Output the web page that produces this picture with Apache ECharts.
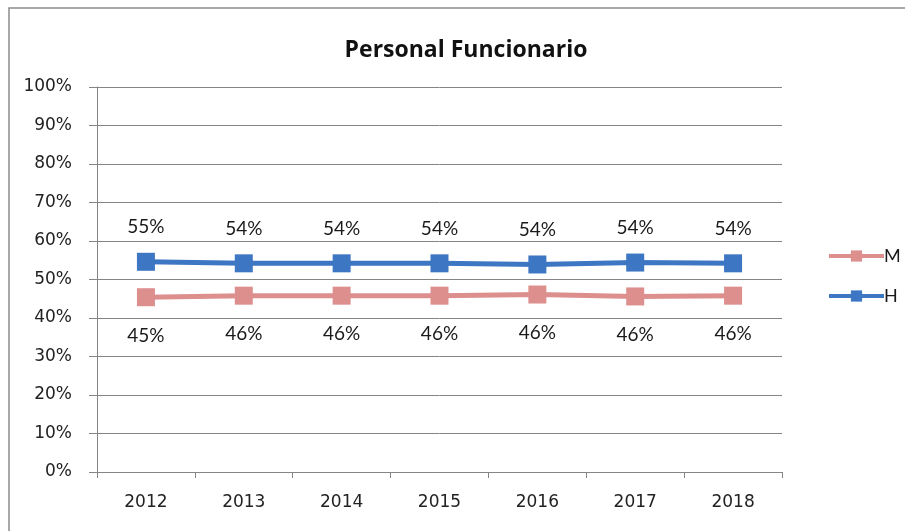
<!DOCTYPE html>
<html>
<head>
<meta charset="utf-8">
<script src="https://cdn.jsdelivr.net/npm/echarts@6/dist/echarts.min.js"></script>
<style>
  html, body { margin: 0; padding: 0; background: #fff; }
  #chart { width: 905px; height: 531px; }
</style>
</head>
<body>
<div id="chart"></div>
<script>
const years = ["2012", "2013", "2014", "2015", "2016", "2017", "2018"];
const mujeres = [45.4, 45.8, 45.8, 45.8, 46.1, 45.6, 45.8];
const hombres = [54.6, 54.2, 54.2, 54.2, 53.9, 54.4, 54.2];
const yTicks = [0, 10, 20, 30, 40, 50, 60, 70, 80, 90, 100];

const chart = echarts.init(document.getElementById("chart"));

const labelFont = {
  fontFamily: "Lato",
  fontSize: 19,
  color: "#1a1a1a",
  formatter: (p) => Math.round(p.value) + "%",
};

const option = {
  animation: false,
  backgroundColor: "#fff",
  graphic: [
    {
      type: "rect",
      shape: { x: 9, y: 8, width: 2000, height: 2000 },
      style: { fill: "none", stroke: "#8c8c8c", lineWidth: 1.5 },
      silent: true,
    },
  ],
  title: {
    text: "Personal Funcionario",
    left: 461,
    textAlign: "center",
    top: 34,
    textStyle: { fontFamily: "Open Sans", fontSize: 23, fontWeight: "bold", color: "#111" },
  },
  legend: {
    orient: "vertical",
    left: 822,
    top: 242,
    itemWidth: 55,
    itemHeight: 14,
    itemGap: 22,
    lineStyle: { width: 4 },
    textStyle: { fontFamily: "Lato", fontSize: 18, color: "#1a1a1a", padding: [0, 0, 0, -5] },
    data: ["M", "H"],
  },
  grid: { left: 97, right: 123, top: 87, bottom: 59 },
  xAxis: {
    type: "category",
    data: years,
    boundaryGap: true,
    axisLine: { lineStyle: { color: "#858585", width: 1 } },
    axisTick: { show: true, length: 6, lineStyle: { color: "#858585" } },
    axisLabel: { fontFamily: "DejaVu Sans", fontSize: 17, color: "#222", margin: 22 },
  },
  yAxis: {
    type: "value",
    min: yTicks[0],
    max: yTicks[yTicks.length - 1],
    interval: 10,
    axisLine: { show: true, lineStyle: { color: "#858585", width: 1 } },
    axisTick: { show: true, length: 8, lineStyle: { color: "#858585" } },
    splitLine: { lineStyle: { color: "#858585", width: 1 } },
    axisLabel: {
      fontFamily: "DejaVu Sans",
      fontSize: 17,
      color: "#222",
      margin: 25,
      formatter: (v) => v + "%",
    },
  },
  series: [
    {
      name: "M",
      type: "line",
      data: mujeres,
      symbol: "rect",
      symbolSize: 18,
      lineStyle: { width: 5, color: "#dd8f8e" },
      itemStyle: { color: "#dd8f8e" },
      label: Object.assign({ show: true, position: "bottom", distance: 20 }, labelFont),
    },
    {
      name: "H",
      type: "line",
      data: hombres,
      symbol: "rect",
      symbolSize: 18,
      lineStyle: { width: 5, color: "#3d76c2" },
      itemStyle: { color: "#3d76c2" },
      label: Object.assign({ show: true, position: "top", distance: 16 }, labelFont),
    },
  ],
};

chart.setOption(option);
</script>
</body>
</html>
